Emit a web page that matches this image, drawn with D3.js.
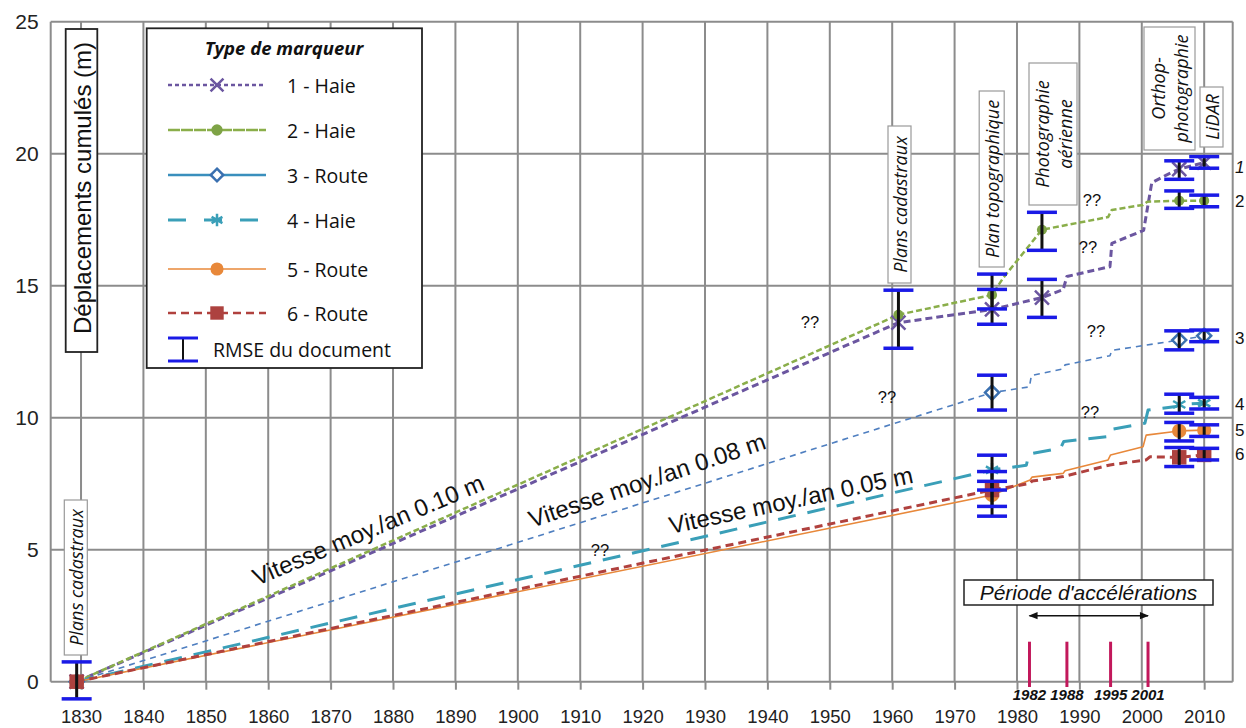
<!DOCTYPE html>
<html>
<head>
<meta charset="utf-8">
<script src="https://cdn.jsdelivr.net/npm/d3@7"></script>
<style>
  body { margin: 0; background: #fff; }
  svg { display: block; font-family: 'Liberation Sans', Arial, sans-serif; }
</style>
</head>
<body>
<div id="chart"></div>
<script>
// ── DATA ─────────────────────────────────────────────────────
const xTicks = [1830, 1840, 1850, 1860, 1870, 1880, 1890, 1900, 1910, 1920, 1930, 1940, 1950, 1960, 1970, 1980, 1990, 2000, 2010]
const yTicks = [0, 5, 10, 15, 20, 25]

const seriesNames = ['1 - Haie', '2 - Haie', '3 - Route', '4 - Haie', '5 - Route', '6 - Route']

const haie1 = [[1829.3, 0], [1961, 13.6], [1976, 14.1], [1984, 14.55], [1987.4, 14.85], [1988, 15.35], [1994.9, 15.72], [1995.2, 16.6], [2000.3, 17.1], [2001.6, 18.9], [2004, 19.2], [2006, 19.42], [2010, 19.66]]
const haie2 = [[1829.3, 0], [1961, 13.9], [1976, 14.65], [1977.8, 15.3], [1984, 17.12], [1994.6, 17.6], [1995.2, 17.87], [2000.2, 18.06], [2000.9, 18.18], [2006, 18.22], [2010, 18.22]]
const route3 = [[1829.3, 0], [1976, 10.95], [1982, 11.17], [1982.3, 11.6], [1987.4, 11.85], [1987.7, 12.0], [1994.9, 12.35], [1995.2, 12.55], [2006, 12.94], [2010, 13.1]]
const haie4 = [[1829.3, 0], [1976, 8.02], [1981.5, 8.2], [1981.9, 8.62], [1987, 8.85], [1987.5, 9.1], [1994.4, 9.28], [1994.9, 9.55], [2000.5, 9.79], [2001, 10.29], [2005.5, 10.42], [2006, 10.5], [2010, 10.55]]
const route5 = [[1829.3, 0], [1976, 7.07], [1982.1, 7.64], [1982.4, 7.75], [1987.4, 7.89], [1987.7, 7.99], [1994.6, 8.4], [1995, 8.59], [2000.2, 8.9], [2000.7, 9.34], [2005, 9.47], [2006, 9.5], [2010, 9.53]]
const route6 = [[1829.3, 0], [1976, 7.26], [1982.1, 7.51], [1982.4, 7.6], [1987.4, 7.77], [1994.9, 8.21], [2000.7, 8.4], [2001.3, 8.52], [2006, 8.5], [2010, 8.59]]

// marker points (documents)
const haie1Marks = [[1829.3, 0], [1961, 13.6], [1976, 14.1], [1984, 14.55], [2006, 19.42], [2010, 19.66]]
const haie2Marks = [[1829.3, 0], [1961, 13.9], [1976, 14.65], [1984, 17.12], [2006, 18.22], [2010, 18.22]]
const route3Marks = [[1829.3, 0], [1976, 10.95], [2006, 12.94], [2010, 13.1]]
const haie4Marks = [[1829.3, 0], [1976, 8.02], [2006, 10.5], [2010, 10.55]]
const route5Marks = [[1829.3, 0], [1976, 7.07], [2006, 9.5], [2010, 9.53]]
const route6Marks = [[1829.3, 0], [1976, 7.26], [2006, 8.5], [2010, 8.59]]

// RMSE error bars: year, centre, half height
const errYears = [1829.3, 1961, 1976, 1976, 1976, 1976, 1976, 1976, 1984, 1984, 2006, 2006, 2006, 2006, 2006, 2006, 2010, 2010, 2010, 2010, 2010, 2010]
const errCenters = [0.05, 13.73, 14.78, 14.2, 10.95, 7.92, 7.3, 6.93, 17.06, 14.52, 19.38, 18.26, 12.93, 10.53, 9.47, 8.51, 19.67, 18.21, 13.1, 10.55, 9.51, 8.62]
const errHalf = [0.7, 1.1, 0.66, 0.66, 0.66, 0.66, 0.66, 0.66, 0.72, 0.72, 0.35, 0.33, 0.36, 0.36, 0.35, 0.36, 0.22, 0.22, 0.22, 0.22, 0.22, 0.22]

const docLabels = [['Plans cadastraux'], ['Plans cadastraux'], ['Plan topographique'], ['Photographie', 'aérienne'], ['Orthop-', 'photographie'], ['LiDAR']]
const speedRates = [0.10, 0.08, 0.05]
const accelYears = [1982, 1988, 1995, 2001]
const questionMarks = ['??', '??', '??', '??', '??', '??', '??']
const endLabels = ['1', '2', '3', '4', '5', '6']

// ── LAYOUT / STYLE ───────────────────────────────────────────
const W = 1246
const H = 728
const x = d3.scaleLinear().domain([1825.14, 2014.57]).range([50.7, 1232.7])
const y = d3.scaleLinear().domain([0, 25]).range([681.7, 21.7])

const styles = [
  { color: '#6b56a0', width: 3, dash: '7,4', sym: d3.symbolTimes, size: 130, fill: 'none', lDash: '4,3', lWidth: 2.5, lSize: 110 },
  { color: '#8aae4a', width: 2.5, dash: '6,3', sym: d3.symbolCircle, size: 80, fill: '#7ea346', lDash: '12,1', lWidth: 2.5, lSize: 100 },
  { color: '#4f7fc0', width: 1.6, dash: '6,5', sym: d3.symbolDiamond2, size: 125, fill: '#fff', lColor: '#3a8fbd', lDash: null, lWidth: 2.5, lSize: 100, mColor: '#3a70b0' },
  { color: '#3a9fb8', width: 3, dash: '18,12', sym: d3.symbolAsterisk, size: 140, fill: 'none', lDash: '18,18', lWidth: 3, lSize: 110 },
  { color: '#e8883a', width: 1.6, dash: null, sym: d3.symbolCircle, size: 160, fill: '#e8883a', lDash: null, lWidth: 1.6, lSize: 135 },
  { color: '#b0413e', width: 3, dash: '8,5', sym: d3.symbolSquare, size: 210, fill: '#ad423f', lDash: '8,5', lWidth: 2.5, lSize: 180 }
]
const seriesLines = [haie1, haie2, route3, haie4, route5, route6]
const seriesMarks = [haie1Marks, haie2Marks, route3Marks, haie4Marks, route5Marks, route6Marks]

const boxLayout = [
  { cx: 75.8, top: 500, bottom: 655, w: 23 },
  { cx: 899.5, top: 126, bottom: 283, w: 23 },
  { cx: 991.7, top: 91, bottom: 267, w: 25 },
  { cx: 1053, top: 63, bottom: 205, w: 48 },
  { cx: 1169.5, top: 27, bottom: 150, w: 51 },
  { cx: 1211.5, top: 87, bottom: 147, w: 23 }
]
const speedPos = [[257, 586], [532, 528], [671, 534]]
const qPos = [[810, 322], [887, 397], [1096, 331], [1090, 412], [1092, 200], [1088, 247], [600, 550]]
const endPos = [167, 201, 338, 404, 430, 454]

const svg = d3.select('#chart')
  .append('svg')
  .attr('width', W)
  .attr('height', H)

// ── GRID ─────────────────────────────────────────────────────
const grid = svg.append('g').attr('stroke', '#8c8c8c').attr('stroke-width', 2)
grid.selectAll('.vx')
  .data([x.domain()[0], ...xTicks, x.domain()[1]])
  .join('line')
  .attr('x1', d => x(d)).attr('x2', d => x(d))
  .attr('y1', y(25)).attr('y2', y(0))
grid.selectAll('.hy')
  .data(yTicks)
  .join('line')
  .attr('x1', x.range()[0]).attr('x2', x.range()[1])
  .attr('y1', d => y(d)).attr('y2', d => y(d))

// ── AXES ─────────────────────────────────────────────────────
const xAxis = svg.append('g')
  .attr('transform', `translate(0,${y(0)})`)
  .call(d3.axisBottom(x).tickValues(xTicks).tickFormat(d3.format('d')).tickSize(8).tickPadding(20))
xAxis.select('.domain').remove()
xAxis.selectAll('line').attr('stroke', '#8c8c8c').attr('stroke-width', 2)
xAxis.selectAll('text').attr('font-size', 18.5).attr('fill', '#222')
  .attr('font-family', "'Liberation Sans', Arial, sans-serif")

const yAxis = svg.append('g')
  .attr('transform', `translate(${x.range()[0]},0)`)
  .call(d3.axisLeft(y).tickValues(yTicks).tickSize(0).tickPadding(12))
yAxis.select('.domain').remove()
yAxis.selectAll('text').attr('font-size', 21).attr('fill', '#222')
  .attr('font-family', "'Liberation Sans', Arial, sans-serif")

// y title box
svg.append('rect')
  .attr('x', 65.7).attr('y', 29).attr('width', 31.6).attr('height', 323)
  .attr('fill', '#fff').attr('stroke', '#222').attr('stroke-width', 1.8)
svg.append('text')
  .attr('transform', 'translate(82,188) rotate(-90)')
  .attr('text-anchor', 'middle').attr('dominant-baseline', 'central')
  .attr('font-size', 24).attr('fill', '#111')
  .text('Déplacements cumulés (m)')

// ── ACCELERATION PERIOD ──────────────────────────────────────
svg.append('g').selectAll('line')
  .data(accelYears)
  .join('line')
  .attr('x1', d => x(d)).attr('x2', d => x(d))
  .attr('y1', 641.7).attr('y2', 687)
  .attr('stroke', '#c2185b').attr('stroke-width', 3)
svg.append('g').selectAll('text')
  .data(accelYears)
  .join('text')
  .attr('x', d => x(d)).attr('y', 700)
  .attr('text-anchor', 'middle')
  .attr('font-size', 15).attr('font-weight', 'bold').attr('font-style', 'italic').attr('fill', '#111')
  .text(d => d)

svg.append('rect')
  .attr('x', 964).attr('y', 580).attr('width', 249).attr('height', 25)
  .attr('fill', '#fff').attr('stroke', '#222').attr('stroke-width', 1.5)
svg.append('text')
  .attr('x', 1088.5).attr('y', 599.5)
  .attr('text-anchor', 'middle').attr('font-size', 21).attr('font-style', 'italic').attr('fill', '#111')
  .text("Période d'accélérations")

const defs = svg.append('defs')
defs.append('marker')
  .attr('id', 'arr').attr('viewBox', '0 0 10 10').attr('refX', 9).attr('refY', 5)
  .attr('markerWidth', 11).attr('markerHeight', 9).attr('orient', 'auto-start-reverse')
  .attr('markerUnits', 'userSpaceOnUse')
  .append('path').attr('d', 'M0,1 L10,5 L0,9 Z').attr('fill', '#111')
svg.append('line')
  .attr('x1', x(1982)).attr('x2', x(2001))
  .attr('y1', 615.7).attr('y2', 615.7)
  .attr('stroke', '#111').attr('stroke-width', 1.5)
  .attr('marker-start', 'url(#arr)').attr('marker-end', 'url(#arr)')

// ── SERIES LINES ─────────────────────────────────────────────
const line = d3.line().x(d => x(d[0])).y(d => y(d[1]))
const linesG = svg.append('g').attr('fill', 'none')
seriesLines.forEach((pts, i) => {
  const s = styles[i]
  linesG.append('path')
    .attr('d', line(pts))
    .attr('stroke', s.color)
    .attr('stroke-width', s.width)
    .attr('stroke-dasharray', s.dash)
    .attr('stroke-linejoin', 'round')
})

// ── MARKERS ──────────────────────────────────────────────────
const markG = svg.append('g')
seriesMarks.forEach((pts, i) => {
  const s = styles[i]
  const stroked = s.fill === 'none' || s.fill === '#fff'
  markG.append('g').selectAll('path')
    .data(pts)
    .join('path')
    .attr('transform', d => `translate(${x(d[0])},${y(d[1])})`)
    .attr('d', d3.symbol(s.sym, s.size))
    .attr('fill', s.fill)
    .attr('stroke', stroked ? (s.mColor || s.color) : 'none')
    .attr('stroke-width', 2.5)
})

// ── ERROR BARS (RMSE) ────────────────────────────────────────
const errG = svg.append('g')
const errData = errYears.map((yr, i) => ({ yr, c: errCenters[i], h: errHalf[i] }))
errG.selectAll('.stem')
  .data(errData)
  .join('line')
  .attr('x1', d => x(d.yr)).attr('x2', d => x(d.yr))
  .attr('y1', d => y(d.c + d.h)).attr('y2', d => y(d.c - d.h))
  .attr('stroke', '#111').attr('stroke-width', 3)
errG.selectAll('.cap')
  .data(errData.flatMap(d => [{ yr: d.yr, v: d.c + d.h }, { yr: d.yr, v: d.c - d.h }]))
  .join('line')
  .attr('x1', d => x(d.yr) - 15).attr('x2', d => x(d.yr) + 15)
  .attr('y1', d => y(d.v)).attr('y2', d => y(d.v))
  .attr('stroke', '#1a1ae6').attr('stroke-width', 3.5)

// ── DOCUMENT LABELS ──────────────────────────────────────────
const docG = svg.append('g')
docLabels.forEach((lines, i) => {
  const b = boxLayout[i]
  docG.append('rect')
    .attr('x', b.cx - b.w / 2).attr('y', b.top)
    .attr('width', b.w).attr('height', b.bottom - b.top)
    .attr('fill', '#fff').attr('stroke', '#9a9a9a').attr('stroke-width', 1.2)
  const cy = (b.top + b.bottom) / 2
  lines.forEach((t, j) => {
    const off = (j - (lines.length - 1) / 2) * 23
    docG.append('text')
      .attr('transform', `translate(${b.cx + off},${cy}) rotate(-90)`)
      .attr('text-anchor', 'middle').attr('dominant-baseline', 'central')
      .attr('font-family', "'Open Sans', 'Noto Sans', sans-serif")
      .attr('font-style', 'italic').attr('font-size', 18).attr('fill', '#111')
      .text(t)
  })
})

// ── SPEED LABELS ─────────────────────────────────────────────
const pxPerYear = x(1) - x(0)
const pxPerM = y(0) - y(1)
svg.append('g').selectAll('text')
  .data(speedRates)
  .join('text')
  .attr('transform', (d, i) => {
    const ang = -Math.atan(d * pxPerM / pxPerYear) * 180 / Math.PI
    return `translate(${speedPos[i][0]},${speedPos[i][1]}) rotate(${ang})`
  })
  .attr('font-size', 24).attr('fill', '#111')
  .text(d => `Vitesse moy./an ${d.toFixed(2)} m`)

// question marks
svg.append('g').selectAll('text')
  .data(questionMarks)
  .join('text')
  .attr('x', (d, i) => qPos[i][0]).attr('y', (d, i) => qPos[i][1])
  .attr('text-anchor', 'middle').attr('dominant-baseline', 'central')
  .attr('font-size', 16.5).attr('fill', '#111')
  .text(d => d)

// series numbers on the right edge
svg.append('g').selectAll('text')
  .data(endLabels)
  .join('text')
  .attr('x', 1235).attr('y', (d, i) => endPos[i])
  .attr('dominant-baseline', 'central')
  .attr('font-size', 17).attr('fill', '#111')
  .attr('font-style', (d, i) => i === 0 ? 'italic' : 'normal')
  .text(d => d)

// ── LEGEND ───────────────────────────────────────────────────
const lg = svg.append('g')
lg.append('rect')
  .attr('x', 146.7).attr('y', 28.3).attr('width', 275.3).attr('height', 339.7)
  .attr('fill', '#fff').attr('stroke', '#222').attr('stroke-width', 1.8)
lg.append('text')
  .attr('x', 284).attr('y', 55)
  .attr('text-anchor', 'middle')
  .attr('font-family', "'Open Sans', 'Noto Sans', sans-serif")
  .attr('font-weight', 'bold').attr('font-style', 'italic').attr('font-size', 18.5).attr('fill', '#111')
  .text('Type de marqueur')

const legendY = [85, 130, 175, 220, 269, 313]
seriesNames.forEach((name, i) => {
  const s = styles[i]
  const yy = legendY[i]
  const stroked = s.fill === 'none' || s.fill === '#fff'
  lg.append('line')
    .attr('x1', 168).attr('x2', 266).attr('y1', yy).attr('y2', yy)
    .attr('stroke', s.lColor || s.color).attr('stroke-width', s.lWidth)
    .attr('stroke-dasharray', s.lDash)
  lg.append('path')
    .attr('transform', `translate(217,${yy})`)
    .attr('d', d3.symbol(s.sym, s.lSize))
    .attr('fill', s.fill)
    .attr('stroke', stroked ? (s.mColor || s.color) : 'none')
    .attr('stroke-width', 2.5)
  lg.append('text')
    .attr('x', 287).attr('y', yy)
    .attr('dominant-baseline', 'central')
    .attr('font-family', "'Open Sans', 'Noto Sans', sans-serif")
    .attr('font-size', 19.5).attr('fill', '#111')
    .text(name)
})
// RMSE legend entry
lg.append('line').attr('x1', 183).attr('x2', 183).attr('y1', 338).attr('y2', 361)
  .attr('stroke', '#111').attr('stroke-width', 2)
lg.selectAll('.rc').data([338, 361]).join('line')
  .attr('x1', 168).attr('x2', 198).attr('y1', d => d).attr('y2', d => d)
  .attr('stroke', '#1a1ae6').attr('stroke-width', 3)
lg.append('text')
  .attr('x', 213).attr('y', 349)
  .attr('dominant-baseline', 'central')
  .attr('font-family', "'Open Sans', 'Noto Sans', sans-serif")
  .attr('font-size', 19.5).attr('fill', '#111')
  .text('RMSE du document')
</script>
</body>
</html>
